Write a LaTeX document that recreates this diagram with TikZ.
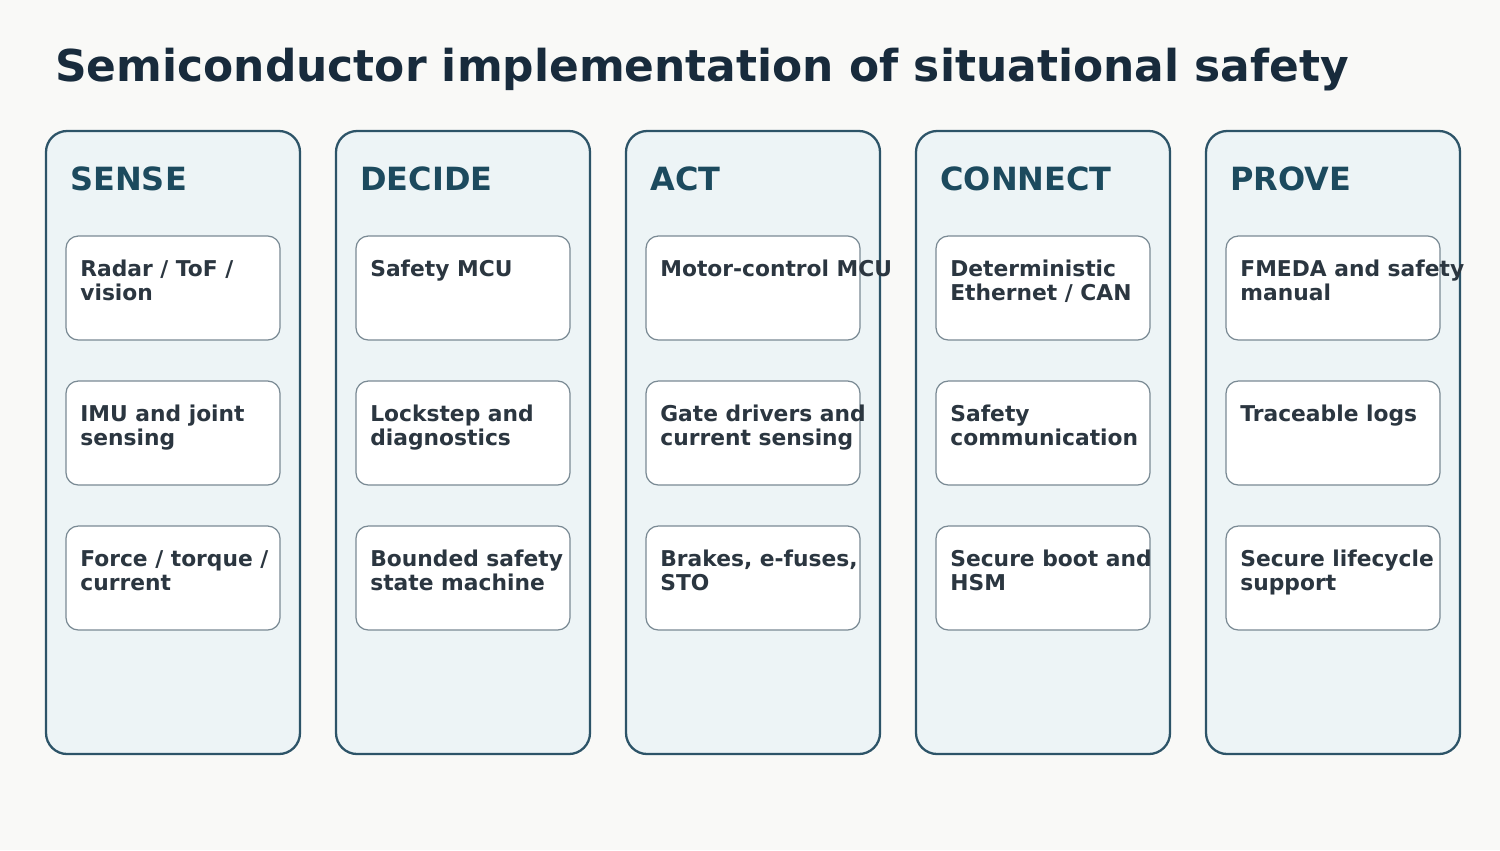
\documentclass[tikz,border=0pt]{standalone}
\usepackage{fontspec}
\setmainfont{DejaVu Sans}
\definecolor{pagebg}{HTML}{F9F9F7}
\definecolor{colfill}{HTML}{EDF4F6}
\definecolor{colline}{HTML}{2D5468}
\definecolor{headtxt}{HTML}{1C4A5E}
\definecolor{titletxt}{HTML}{182B3C}
\definecolor{boxline}{HTML}{7A8A94}
\definecolor{boxtxt}{HTML}{2B3640}
\tikzset{
  column/.style={draw=colline, line width=1.3pt, fill=colfill, rounded corners=12pt},
  item/.style={draw=boxline, line width=0.7pt, fill=white, rounded corners=7pt},
  itemtext/.style={anchor=north west, inner sep=0pt, align=left, text=boxtxt,
    font=\fontsize{12.4}{13.7}\selectfont\bfseries},
  heading/.style={anchor=west, inner sep=0pt, text=headtxt, font=\fontsize{18.2}{20}\selectfont\bfseries},
}
\begin{document}
\begin{tikzpicture}[x=0.02cm, y=-0.02cm]
	% page
	\fill[pagebg] (0,0) rectangle (1500,850);
	\useasboundingbox (0,0) rectangle (1500,850);
	% title
	\node[anchor=west, inner sep=0pt, text=titletxt, font=\fontsize{25}{28}\selectfont\bfseries]
		(title) at (55,70) {Semiconductor implementation of situational safety};
	% columns
	\foreach \i/\name/\ta/\tb/\tc in {
		0/SENSE/{Radar / ToF /\\vision}/{IMU and joint\\sensing}/{Force / torque /\\current},
		1/DECIDE/{Safety MCU}/{Lockstep and\\diagnostics}/{Bounded safety\\state machine},
		2/ACT/{Motor-control MCU}/{Gate drivers and\\current sensing}/{Brakes, e-fuses,\\STO},
		3/CONNECT/{Deterministic\\Ethernet / CAN}/{Safety\\communication}/{Secure boot and\\HSM},
		4/PROVE/{FMEDA and safety\\manual}/{Traceable logs}/{Secure lifecycle\\support}} {
		\pgfmathsetmacro{\x}{46+290*\i}
		\draw[column] (\x,131) rectangle ++(254,623);
		\node[heading] (head-\i) at (\x+24,179) {\name};
		% items
		\foreach \j/\txt in {0/\ta, 1/\tb, 2/\tc} {
			\pgfmathsetmacro{\y}{236+145*\j}
			\draw[item] (\x+20,\y) rectangle ++(214,104);
			\node[itemtext] (item-\i-\j) at (\x+34,\y+24) {\txt};
		}
	}
\end{tikzpicture}
\end{document}
